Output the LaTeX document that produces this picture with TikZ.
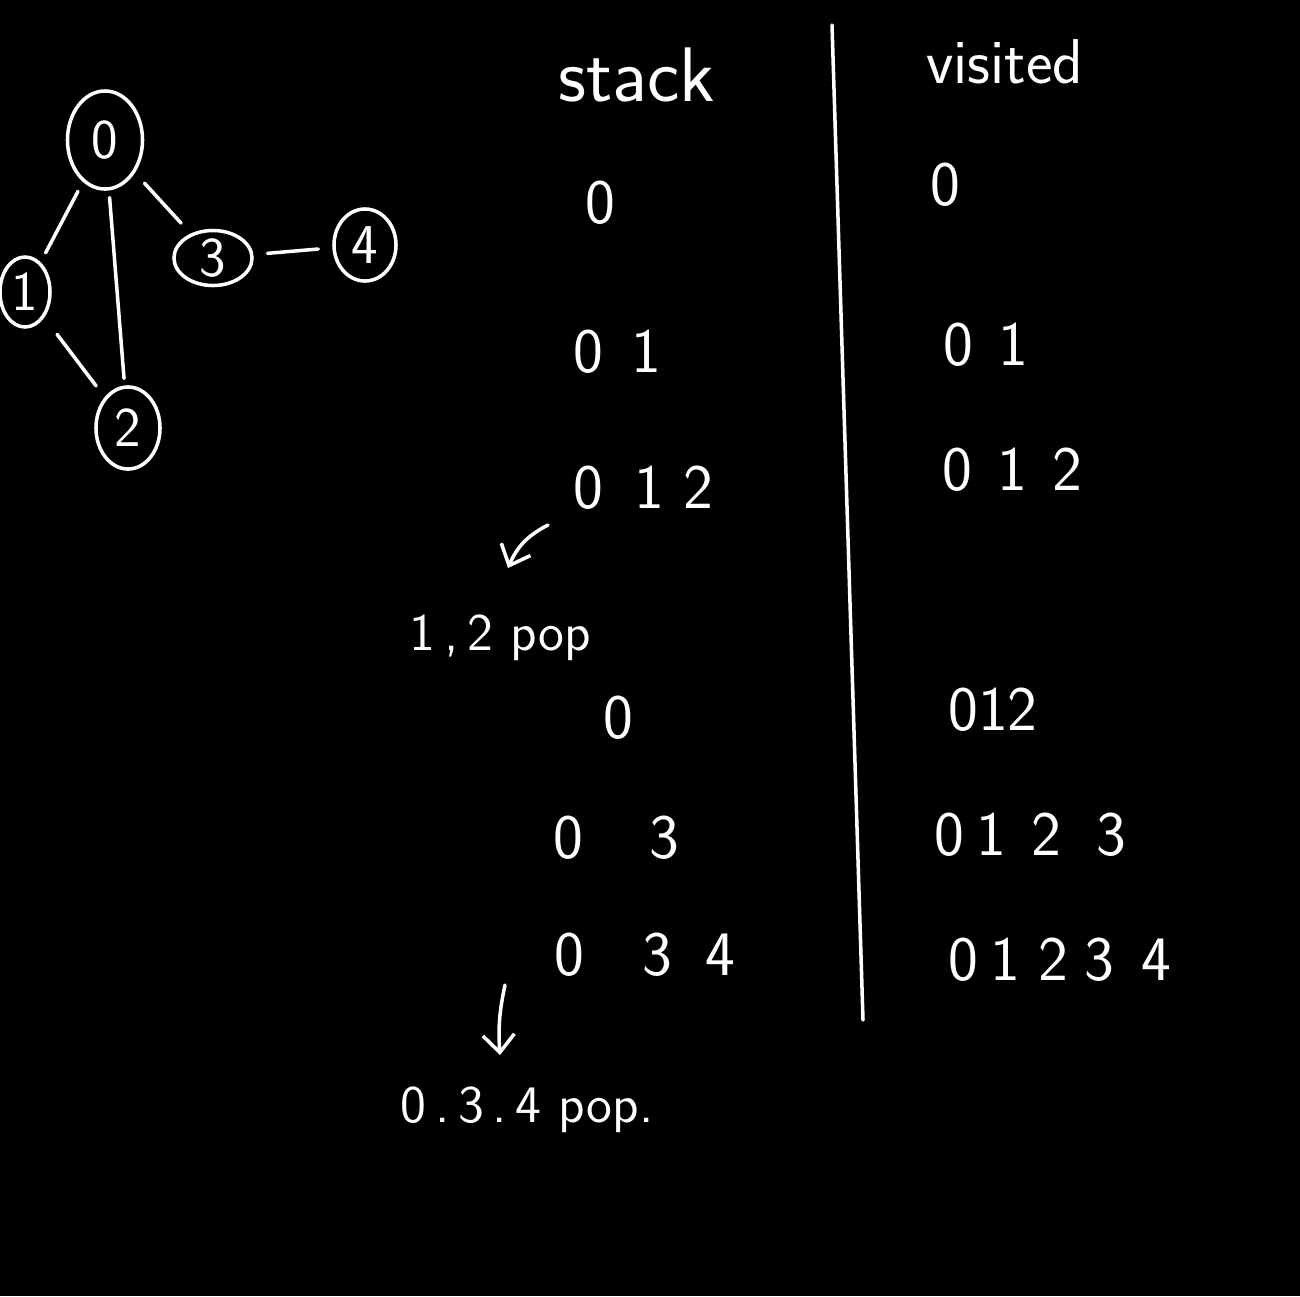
\documentclass[tikz,border=0pt]{standalone}
\usepackage{tikz}
\usetikzlibrary{shapes.geometric,arrows.meta}

\tikzset{
  ink/.style={white,line width=1pt,line cap=round},
  vert/.style={draw=white,line width=1pt,ellipse,inner sep=0pt,text=white,font=\fontsize{16}{19}\selectfont\sffamily},
  txt/.style={text=white,inner sep=0pt,font=\fontsize{18}{22}\selectfont\sffamily},
  note/.style={text=white,inner sep=0pt,font=\fontsize{15}{18}\selectfont\sffamily}
}

\begin{document}
\begin{tikzpicture}[x=0.01cm,y=-0.01cm]
\fill[black] (0,0) rectangle (1300,1296);
\useasboundingbox (0,0) rectangle (1300,1296);
% graph
\node[vert,minimum width=0.75cm,minimum height=0.98cm] (v0) at (105,140) {0};
\node[vert,minimum width=0.5cm,minimum height=0.7cm] (v1) at (25,292) {1};
\node[vert,minimum width=0.64cm,minimum height=0.82cm] (v2) at (128,428) {2};
\node[vert,minimum width=0.78cm,minimum height=0.55cm] (v3) at (213,258) {3};
\node[vert,minimum width=0.62cm,minimum height=0.72cm] (v4) at (365,245) {4};
\draw[ink,shorten <=3pt,shorten >=3pt] (v0) -- (v1);
\draw[ink,shorten <=2pt,shorten >=2pt] (v0) -- (v2);
\draw[ink,shorten <=4pt,shorten >=4pt] (v0) -- (v3);
\draw[ink,shorten <=4pt,shorten >=4pt] (v3) -- (v4);
\draw[ink,shorten <=6pt,shorten >=4pt] (v1) -- (v2);
% divider
\draw[ink] (832,25) -- (863,1020);
% stack column
\node[txt,font=\fontsize{22}{26}\selectfont\sffamily] (stk) at (637,75) {stack};
\node[txt] (s1) at (600,203) {0};
\node[txt] (s2) at (617,352) {0\hspace{0.45em}1};
\node[txt] (s3) at (643,488) {0\hspace{0.5em}1\hspace{0.3em}2};
\node[note] (p1) at (500,638) {1\,,\,2 pop};
\node[txt] (s4) at (618,718) {0};
\node[txt] (s5) at (616,838) {0\hspace{1.05em}3};
\node[txt] (s6) at (645,955) {0\hspace{0.92em}3\hspace{0.52em}4};
\node[note] (p2) at (527,1110) {0\,.\,3\,.\,4 pop.};
\coordinate (a1) at (548,525);
\coordinate (b1) at (508,568);
\coordinate (a2) at (505,985);
\coordinate (b2) at (500,1055);
\draw[ink,-{Straight Barb[length=5pt,width=9pt]}] (a1) to[bend right=20] (b1);
\draw[ink,-{Straight Barb[length=5pt,width=9pt]}] (a2) to[bend right=8] (b2);
% visited column
\node[txt] (vis) at (1005,62) {visited};
\node[txt] (t1) at (945,185) {0};
\node[txt] (t2) at (986,345) {0\hspace{0.4em}1};
\node[txt] (t3) at (1012,470) {0\hspace{0.4em}1\hspace{0.4em}2};
\node[txt] (t4) at (993,710) {012};
\node[txt] (t5) at (1030,835) {0\hspace{0.2em}1\hspace{0.4em}2\hspace{0.55em}3};
\node[txt] (t6) at (1060,960) {0\hspace{0.19em}1\hspace{0.29em}2\hspace{0.25em}3\hspace{0.44em}4};
\end{tikzpicture}
\end{document}
